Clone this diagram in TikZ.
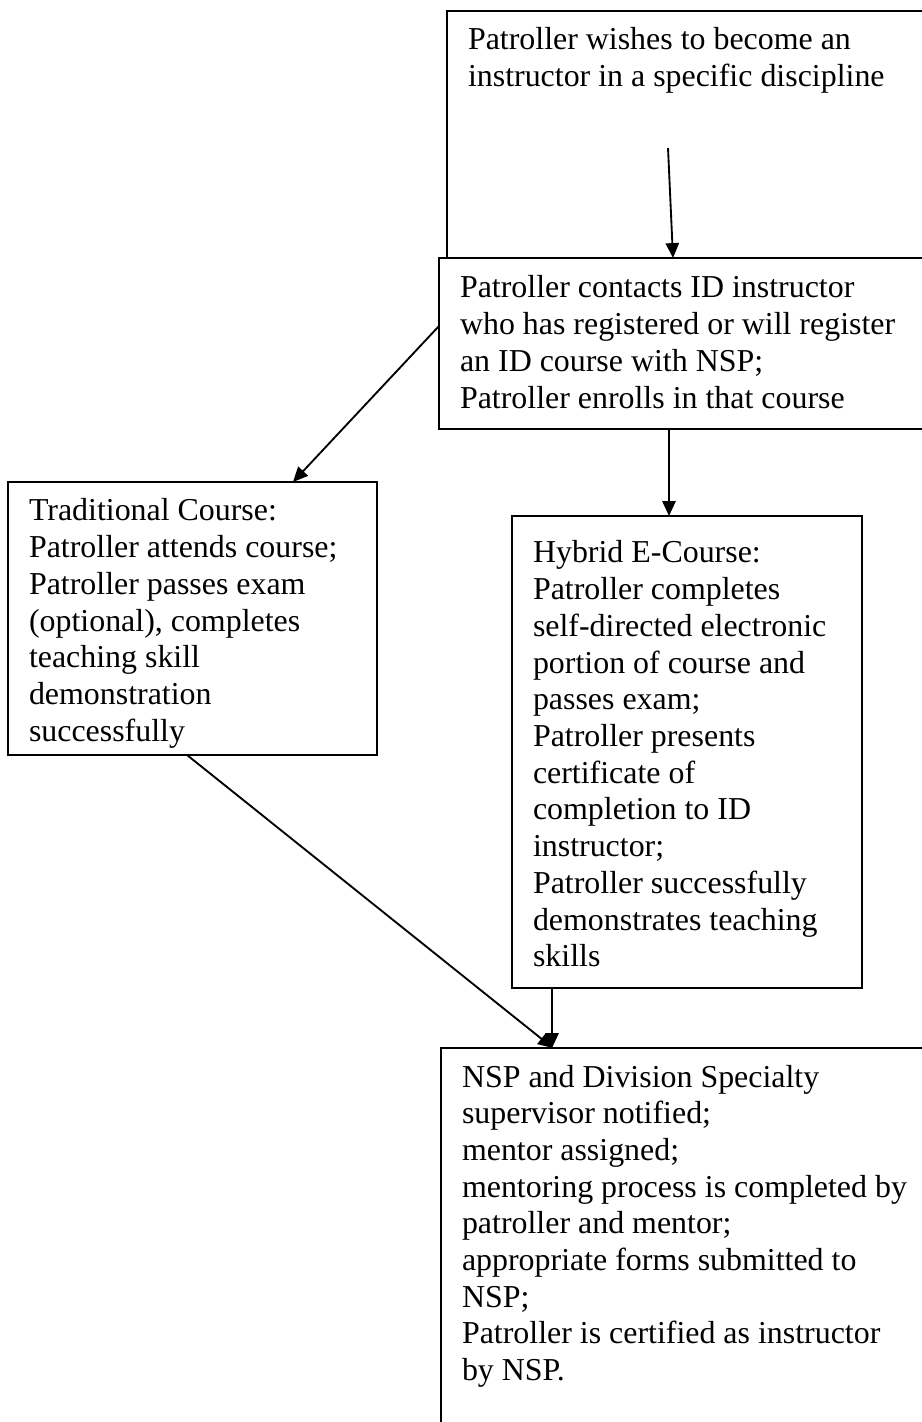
\documentclass[tikz,border=0pt]{standalone}
\usepackage{fontspec}
\setmainfont{Liberation Serif}
\usetikzlibrary{arrows.meta,calc}
\newdimen\pxlen
\pxlen=0.376pt
\newcommand{\stepbody}[4]{\begin{minipage}[t][\dimexpr#2\pxlen\relax][t]{\dimexpr#1\pxlen-15.8pt\relax}\raggedright\rule{0pt}{\dimexpr#3\pxlen\relax}#4\end{minipage}}
\tikzset{
  stepbox/.style={draw, line width=0.7pt, anchor=north west, inner xsep=7.9pt, inner ysep=0pt, outer sep=0pt, font=\fontsize{12}{13.8}\selectfont},
  flow/.style={line width=0.7pt, -{Triangle[length=5.6pt, width=5pt]}}
}
\begin{document}
\begin{tikzpicture}[x=0.376pt, y=-0.376pt]
      \useasboundingbox (0, 0) rectangle (922, 1422);
      \clip (0, 0) rectangle (922, 1422);
      \node[stepbox] (wish) at (447, 11) {\stepbody{493}{247}{39}{Patroller wishes to become an\\ instructor in a specific discipline}};
      \node[stepbox] (contact) at (439, 258) {\stepbody{501}{171}{40}{Patroller contacts ID instructor\\ who has registered or will register\\ an ID course with NSP;\\ Patroller enrolls in that course}};
      \node[stepbox] (trad) at (8, 482) {\stepbody{369}{273}{39}{Traditional Course:\\ Patroller attends course;\\ Patroller passes exam\\ (optional), completes\\ teaching skill\\ demonstration\\ successfully}};
      \node[stepbox] (hybrid) at (512, 516) {\stepbody{350}{472}{47}{Hybrid E-Course:\\ Patroller completes\\ self-directed electronic\\ portion of course and\\ passes exam;\\ Patroller presents\\ certificate of\\ completion to ID\\ instructor;\\ Patroller successfully\\ demonstrates teaching\\ skills}};
      \node[stepbox] (cert) at (441, 1048) {\stepbody{499}{402}{39}{NSP and Division Specialty\\ supervisor notified;\\ mentor assigned;\\ mentoring process is completed by\\ patroller and mentor;\\ appropriate forms submitted to\\ NSP;\\ Patroller is certified as instructor\\ by NSP.}};
      \coordinate (wishtail) at (668, 148);
      \coordinate (hybridin) at ($(hybrid.north west) + (157, 0)$);
      \coordinate (hybridout) at ($(hybrid.south west) + (40, 0)$);
      \draw[flow] (wishtail) -- ($(contact.north west) + (234, 0)$);
      \draw[flow] ($(contact.north west) + (0, 68)$) -- ($(trad.north west) + (285, 0)$);
      \draw[flow] (hybridin |- contact.south) -- (hybridin);
      \draw[flow] ($(trad.south west) + (179, 0)$) -- ($(cert.north west) + (112, 0)$);
      \draw[flow] (hybridout) -- (hybridout |- cert.north);
    \end{tikzpicture}
\end{document}
